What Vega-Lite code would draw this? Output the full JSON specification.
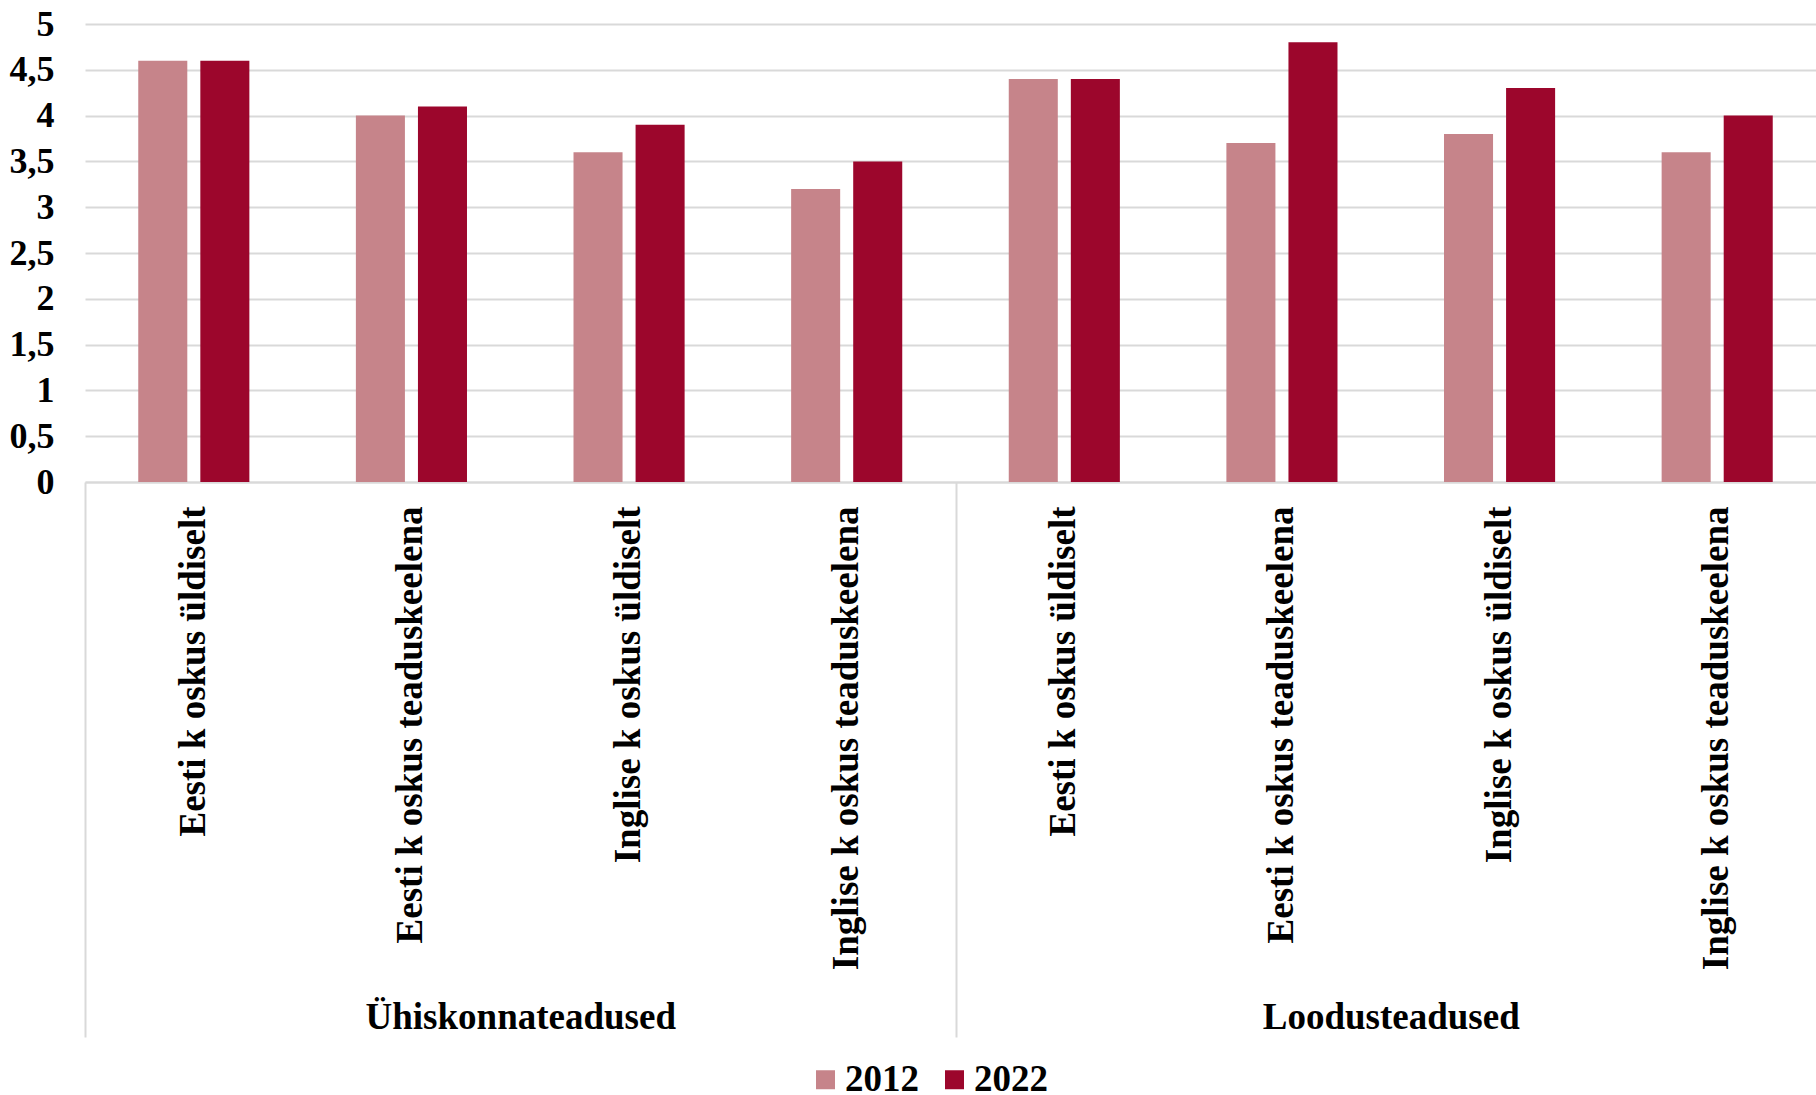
{
  "$schema": "https://vega.github.io/schema/vega-lite/v6.json",
  "width": 1731,
  "height": 458,
  "autosize": {"type": "none"},
  "padding": {"left": 85, "top": 24, "right": 0, "bottom": 613},
  "background": "white",
  "config": {
    "view": {"stroke": null},
    "font": "Liberation Serif",
    "axis": {"labelFont": "Liberation Serif", "labelFontWeight": "bold", "labelFontSize": 37, "labelColor": "#000000", "titleFont": "Liberation Serif"},
    "legend": {"labelFont": "Liberation Serif", "labelFontWeight": "bold", "labelFontSize": 37, "labelColor": "#000000"}
  },
  "data": {
    "values": [
      {"group": "Ühiskonnateadused", "item": "Ühiskonnateadused|Eesti k oskus üldiselt", "year": "2012", "value": 4.6},
      {"group": "Ühiskonnateadused", "item": "Ühiskonnateadused|Eesti k oskus üldiselt", "year": "2022", "value": 4.6},
      {"group": "Ühiskonnateadused", "item": "Ühiskonnateadused|Eesti k oskus teaduskeelena", "year": "2012", "value": 4.0},
      {"group": "Ühiskonnateadused", "item": "Ühiskonnateadused|Eesti k oskus teaduskeelena", "year": "2022", "value": 4.1},
      {"group": "Ühiskonnateadused", "item": "Ühiskonnateadused|Inglise k oskus üldiselt", "year": "2012", "value": 3.6},
      {"group": "Ühiskonnateadused", "item": "Ühiskonnateadused|Inglise k oskus üldiselt", "year": "2022", "value": 3.9},
      {"group": "Ühiskonnateadused", "item": "Ühiskonnateadused|Inglise k oskus teaduskeelena", "year": "2012", "value": 3.2},
      {"group": "Ühiskonnateadused", "item": "Ühiskonnateadused|Inglise k oskus teaduskeelena", "year": "2022", "value": 3.5},
      {"group": "Loodusteadused", "item": "Loodusteadused|Eesti k oskus üldiselt", "year": "2012", "value": 4.4},
      {"group": "Loodusteadused", "item": "Loodusteadused|Eesti k oskus üldiselt", "year": "2022", "value": 4.4},
      {"group": "Loodusteadused", "item": "Loodusteadused|Eesti k oskus teaduskeelena", "year": "2012", "value": 3.7},
      {"group": "Loodusteadused", "item": "Loodusteadused|Eesti k oskus teaduskeelena", "year": "2022", "value": 4.8},
      {"group": "Loodusteadused", "item": "Loodusteadused|Inglise k oskus üldiselt", "year": "2012", "value": 3.8},
      {"group": "Loodusteadused", "item": "Loodusteadused|Inglise k oskus üldiselt", "year": "2022", "value": 4.3},
      {"group": "Loodusteadused", "item": "Loodusteadused|Inglise k oskus teaduskeelena", "year": "2012", "value": 3.6},
      {"group": "Loodusteadused", "item": "Loodusteadused|Inglise k oskus teaduskeelena", "year": "2022", "value": 4.0}
    ]
  },
  "layer": [
    {
      "mark": {"type": "bar"},
      "encoding": {
        "x": {
          "field": "item", "type": "nominal", "sort": null,
          "scale": {"paddingInner": 0, "paddingOuter": 0, "range": [0, 1741]},
          "axis": {
            "title": null, "labelAngle": -90, "labelAlign": "right", "labelBaseline": "middle",
            "labelPadding": 24, "ticks": false, "labelLimit": 0,
            "domain": true, "domainColor": "#d9d9d9", "domainWidth": 2,
            "labelExpr": "split(datum.label, '|')[1]"
          }
        },
        "xOffset": {"field": "year", "type": "nominal", "scale": {"paddingInner": 0.21, "paddingOuter": 0.858}},
        "y": {
          "field": "value", "type": "quantitative",
          "scale": {"domain": [0, 5], "nice": false},
          "axis": {
            "title": null, "values": [0, 0.5, 1, 1.5, 2, 2.5, 3, 3.5, 4, 4.5, 5],
            "grid": true, "gridColor": "#d9d9d9", "gridWidth": 2,
            "domain": false, "ticks": false, "labelPadding": 31, "labelFontSize": 36,
            "labelExpr": "replace(toString(datum.value), '.', ',')"
          }
        },
        "color": {
          "field": "year", "type": "nominal",
          "scale": {"domain": ["2012", "2022"], "range": ["#c6848a", "#9c062c"]},
          "legend": {
            "title": null, "orient": "none", "direction": "horizontal",
            "legendX": 722, "legendY": 1037,
            "symbolType": "square", "symbolSize": 361, "symbolStrokeWidth": 0,
            "symbolOpacity": 1, "columnPadding": 17, "labelOffset": 1
          }
        }
      }
    },
    {
      "mark": {"type": "rule", "opacity": 0},
      "encoding": {
        "x": {
          "field": "group", "type": "nominal", "sort": null,
          "scale": {"paddingInner": 0, "paddingOuter": 0, "range": [0, 1741]},
          "axis": {
            "title": null, "orient": "bottom", "labelAngle": 0, "labelAlign": "center",
            "labelBaseline": "top",
            "domain": false, "ticks": true, "tickBand": "extent", "tickSize": 555,
            "tickColor": "#d9d9d9", "tickWidth": 2, "labelPadding": -38, "labelLimit": 0
          }
        }
      }
    }
  ],
  "resolve": {"scale": {"x": "independent"}}
}
